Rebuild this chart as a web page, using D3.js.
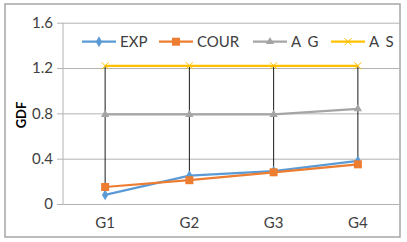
<!DOCTYPE html>
<html>
<head>
<meta charset="utf-8">
<script src="https://cdn.jsdelivr.net/npm/d3@7"></script>
<style>
  body { margin: 0; background: #fff; }
  text { font-family: Lato, "Open Sans", sans-serif; }
</style>
</head>
<body>
<div id="chart"></div>
<script>
const categories = ["G1", "G2", "G3", "G4"];
const yTicks = [0, 0.4, 0.8, 1.2, 1.6];
const seriesNames = ["EXP", "COUR", "A G", "A S"];
const expValues = [0.08, 0.25, 0.29, 0.38];
const courValues = [0.15, 0.21, 0.28, 0.35];
const agValues = [0.79, 0.79, 0.79, 0.84];
const asValues = [1.22, 1.22, 1.22, 1.22];

const W = 407, H = 242;
const margin = {top: 22.7, right: 7, bottom: 38, left: 63};
const width = W - margin.left - margin.right;
const height = 204 - margin.top;

const colors = ["#5B9BD5", "#ED7D31", "#A5A5A5", "#FFC000"];
const markers = ["diamond", "square", "triangle", "cross"];
const allValues = [expValues, courValues, agValues, asValues];

const series = seriesNames.map((name, i) => ({
  name: name,
  color: colors[i],
  marker: markers[i],
  values: allValues[i]
}));

const svg = d3.select("#chart").append("svg")
  .attr("width", W)
  .attr("height", H);

// outer border
svg.append("rect")
  .attr("x", 5).attr("y", 4)
  .attr("width", 395).attr("height", 233)
  .attr("fill", "none")
  .attr("stroke", "#a6a6a6")
  .attr("stroke-width", 1.5);

const g = svg.append("g")
  .attr("transform", `translate(${margin.left},${margin.top})`);

const x = d3.scaleBand()
  .domain(categories)
  .range([0, width]);

const y = d3.scaleLinear()
  .domain([0, 1.6])
  .range([height, 0]);

const cx = d => x(d) + x.bandwidth() / 2;

// gridlines + y axis
const yAxis = d3.axisLeft(y)
  .tickValues(yTicks)
  .tickSize(-width)
  .tickPadding(10)
  .tickFormat(d => d === 0 ? "0" : d3.format(".1f")(d));

g.append("g")
  .call(yAxis)
  .call(a => a.select(".domain").remove())
  .call(a => a.selectAll(".tick line")
    .attr("x1", -6)
    .attr("stroke", "#b3b3b3"))
  .call(a => a.selectAll(".tick text")
    .attr("fill", "#404040")
    .style("font-size", "15px"));

g.append("line")
  .attr("x1", 0).attr("x2", 0)
  .attr("y1", 0).attr("y2", height)
  .attr("stroke", "#b3b3b3");

// x axis
const xAxis = d3.axisBottom(x).tickSize(0).tickPadding(13);
g.append("g")
  .attr("transform", `translate(0,${height})`)
  .call(xAxis)
  .call(a => a.select(".domain").attr("stroke", "#b3b3b3"))
  .call(a => a.selectAll(".tick text")
    .attr("fill", "#404040")
    .style("font-size", "15px"));

// y title
svg.append("text")
  .attr("transform", `translate(25.5,115) rotate(-90)`)
  .attr("text-anchor", "middle")
  .style("font-size", "13px")
  .style("font-weight", "bold")
  .attr("fill", "#000")
  .text("GDF");

// high-low lines
g.append("g").selectAll("line")
  .data(categories)
  .join("line")
  .attr("x1", d => cx(d)).attr("x2", d => cx(d))
  .attr("y1", (d, i) => y(d3.max(allValues, v => v[i])))
  .attr("y2", (d, i) => y(d3.min(allValues, v => v[i])))
  .attr("stroke", "#000")
  .attr("stroke-width", 0.9);

const line = d3.line()
  .x((d, i) => cx(categories[i]))
  .y(d => y(d));

function drawMarker(sel, type, color, px, py) {
  if (type === "diamond") {
    sel.append("path")
      .attr("d", d3.symbol(d3.symbolDiamond, 34)())
      .attr("transform", `translate(${px},${py})`)
      .attr("fill", color);
  } else if (type === "square") {
    sel.append("rect")
      .attr("x", px - 4).attr("y", py - 4)
      .attr("width", 8).attr("height", 8)
      .attr("fill", color);
  } else if (type === "triangle") {
    sel.append("path")
      .attr("d", d3.symbol(d3.symbolTriangle, 30)())
      .attr("transform", `translate(${px},${py})`)
      .attr("fill", color);
  } else {
    sel.append("path")
      .attr("d", `M${px - 3.5},${py - 3.5}L${px + 3.5},${py + 3.5}M${px - 3.5},${py + 3.5}L${px + 3.5},${py - 3.5}`)
      .attr("stroke", color)
      .attr("stroke-width", 1);
  }
}

series.forEach(s => {
  const sg = g.append("g");
  sg.append("path")
    .datum(s.values)
    .attr("d", line)
    .attr("fill", "none")
    .attr("stroke", s.color)
    .attr("stroke-width", 2.25);
  s.values.forEach((v, i) => drawMarker(sg, s.marker, s.color, cx(categories[i]), y(v)));
});

// legend
const legendX = [82, 159, 253, 331];
const legend = svg.append("g");
series.forEach((s, i) => {
  const lg = legend.append("g");
  const x0 = legendX[i], ly = 41.7;
  lg.append("line")
    .attr("x1", x0).attr("x2", x0 + 34)
    .attr("y1", ly).attr("y2", ly)
    .attr("stroke", s.color)
    .attr("stroke-width", 2.25);
  drawMarker(lg, s.marker, s.color, x0 + 17, ly);
  lg.append("text")
    .attr("x", x0 + 38)
    .attr("y", ly + 5.2)
    .style("font-size", "15px")
    .style("letter-spacing", s.name.indexOf(" ") > 0 ? "1.5px" : "0px")
    .attr("fill", "#404040")
    .text(s.name);
});
</script>
</body>
</html>
